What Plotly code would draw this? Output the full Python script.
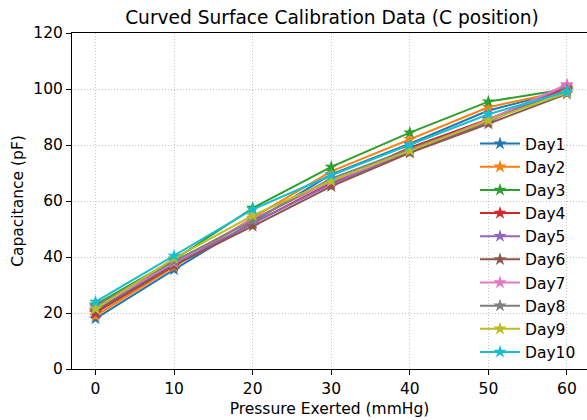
import plotly.graph_objects as go

pressure = [0, 10, 20, 30, 40, 50, 60]
day_names = ["Day1", "Day2", "Day3", "Day4", "Day5", "Day6", "Day7", "Day8", "Day9", "Day10"]
day1 = [18.0, 35.5, 52.5, 69.5, 80.5, 92.3, 99.5]
day2 = [19.0, 36.5, 54.0, 70.6, 82.0, 93.5, 99.5]
day3 = [23.0, 39.0, 57.5, 72.2, 84.4, 95.5, 100.0]
day4 = [20.0, 37.0, 52.0, 66.5, 79.0, 89.2, 100.5]
day5 = [21.0, 37.5, 52.0, 66.0, 77.5, 88.3, 101.2]
day6 = [20.5, 37.0, 51.0, 65.2, 77.2, 87.6, 98.3]
day7 = [22.0, 38.0, 53.5, 67.0, 78.0, 89.0, 101.6]
day8 = [22.5, 38.5, 53.0, 68.0, 78.5, 88.6, 99.8]
day9 = [21.5, 39.5, 54.8, 67.3, 78.0, 88.8, 98.6]
day10 = [24.0, 40.4, 57.0, 69.2, 80.0, 91.0, 99.0]
all_days = [day1, day2, day3, day4, day5, day6, day7, day8, day9, day10]
colors = ["#1f77b4", "#ff7f0e", "#2ca02c", "#d62728", "#9467bd",
          "#8c564b", "#e377c2", "#7f7f7f", "#bcbd22", "#17becf"]

fig = go.Figure()
for name, vals, c in zip(day_names, all_days, colors):
    fig.add_trace(go.Scatter(
        x=pressure, y=vals, name=name, mode="lines+markers",
        line=dict(color=c, width=2),
        marker=dict(symbol="star", size=10, color=c),
    ))

W, H = 587, 420
L, R, T, B = 72, 0, 33, 51
fnt = "DejaVu Sans"
fs = 15.5
fig.update_layout(
    width=W, height=H,
    margin=dict(l=L, r=R, t=T, b=B),
    paper_bgcolor="white", plot_bgcolor="white",
    font=dict(family=fnt, size=fs, color="black"),
    title=dict(text="Curved Surface Calibration Data (C position)",
               xref="container", yref="container",
               x=332 / W, y=1 - 17 / H, xanchor="center", yanchor="middle",
               font=dict(size=18.6, family=fnt, color="black")),
    showlegend=True,
    legend=dict(x=(475 - L) / (W - L), y=(369 - 127) / 336,
                xanchor="left", yanchor="top",
                bgcolor="rgba(0,0,0,0)", borderwidth=0,
                font=dict(size=fs, family=fnt),
                itemwidth=40),
)
grid = dict(showgrid=True, gridcolor="#c4c4c4", griddash="1px,2px", gridwidth=1)
fig.update_xaxes(
    range=[-2.99, 62.55], tickvals=pressure, ticks="outside", ticklen=5,
    tickcolor="black", showline=True, linecolor="black", linewidth=1,
    mirror=True, zeroline=False, **grid,
    title=dict(text="Pressure Exerted (mmHg)", standoff=6, font=dict(size=fs)),
    tickfont=dict(size=fs),
)
fig.update_yaxes(
    range=[0, 120], tickvals=[0, 20, 40, 60, 80, 100, 120], ticks="outside",
    ticklen=5, tickcolor="black", showline=True, linecolor="black",
    linewidth=1, mirror=False, zeroline=False, **grid,
    title=dict(text="Capacitance (pF)", standoff=5, font=dict(size=fs)),
    tickfont=dict(size=fs),
)
fig.write_html("out.html")
